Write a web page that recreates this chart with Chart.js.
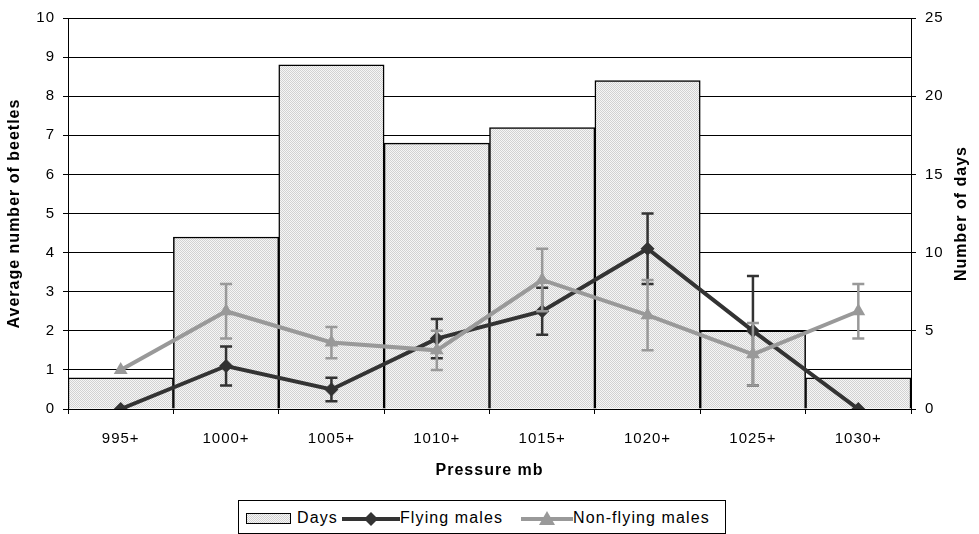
<!DOCTYPE html>
<html>
<head>
<meta charset="utf-8">
<script src="https://cdn.jsdelivr.net/npm/chart.js@4"></script>
<style>
  body { margin: 0; background: #fff; }
  #wrap { position: relative; width: 979px; height: 534px; }
  #legend {
    position: absolute; left: 238px; top: 500px; width: 488px; height: 34px;
    box-sizing: border-box; border: 1px solid #000; background: #fff;
    font-family: "Liberation Sans", Arial, sans-serif; font-size: 16px; letter-spacing: 1.1px; color: #000;
  }
  #legend > * { position: absolute; }
  #legend span { top: 9px; line-height: 1; }
  .patch {
    left: 7px; top: 12px; width: 45px; height: 11px; box-sizing: border-box; border: 1px solid #000;
    background: repeating-conic-gradient(#d2d2d2 0 25%, #f6f6f6 0 50%) 0 0 / 2px 2px;
  }
</style>
</head>
<body>
<div id="wrap">
  <canvas id="beetleChart" width="979" height="534"></canvas>
  <div id="legend">
    <div class="patch"></div>
    <span style="left:58px">Days</span>
    <svg style="left:103px;top:9px" width="58" height="18">
      <line x1="0" y1="9" x2="58" y2="9" stroke="#333" stroke-width="4"/>
      <polygon points="29,2 36,9 29,16 22,9" fill="#333"/>
    </svg>
    <span style="left:161px">Flying males</span>
    <svg style="left:282px;top:9px" width="52" height="18">
      <line x1="0" y1="9" x2="52" y2="9" stroke="#999" stroke-width="4"/>
      <polygon points="26,1 34,15 18,15" fill="#999"/>
    </svg>
    <span style="left:334px">Non-flying males</span>
  </div>
</div>
<script>
const pressureBins = ['995+', '1000+', '1005+', '1010+', '1015+', '1020+', '1025+', '1030+'];
const days = [2, 11, 22, 17, 18, 21, 5, 2];
const flyingMales = [0, 1.1, 0.5, 1.8, 2.5, 4.1, 2.0, 0];
const flyingErr = [0, 0.5, 0.3, 0.5, 0.6, 0.9, 1.4, 0];
const nonFlyingMales = [1.0, 2.5, 1.7, 1.5, 3.3, 2.4, 1.4, 2.5];
const nonFlyingErr = [0, 0.7, 0.4, 0.5, 0.8, 0.9, 0.8, 0.7];

Chart.defaults.font.family = '"Liberation Sans", Arial, sans-serif';
Chart.defaults.color = '#000';

// stippled fill for the day bars
const tile = document.createElement('canvas');
tile.width = 2; tile.height = 2;
const tctx = tile.getContext('2d');
tctx.fillStyle = '#f6f6f6'; tctx.fillRect(0, 0, 2, 2);
tctx.fillStyle = '#d2d2d2'; tctx.fillRect(0, 0, 1, 1); tctx.fillRect(1, 1, 1, 1);
const stipple = tctx.createPattern(tile, 'repeat');

// wider text spacing on the canvas labels
const spacing = {
    id: 'spacing',
    beforeUpdate(chart) { chart.ctx.letterSpacing = '1px'; },
    beforeDraw(chart) { chart.ctx.letterSpacing = '1px'; }
};

// right-hand axis title, reading bottom to top like the left one
const rightTitle = {
    id: 'rightTitle',
    afterDraw(chart) {
        const { ctx, chartArea } = chart;
        ctx.save();
        ctx.translate(962, (chartArea.top + chartArea.bottom) / 2);
        ctx.rotate(-Math.PI / 2);
        ctx.font = 'bold 16px "Liberation Sans", Arial, sans-serif';
        ctx.fillStyle = '#000';
        ctx.textAlign = 'center';
        ctx.textBaseline = 'middle';
        ctx.fillText('Number of days', 0, 0);
        ctx.restore();
    }
};

// vertical error bars with caps for the line series
const errorBars = {
    id: 'errorBars',
    afterDatasetDraw(chart, args) {
        const ds = chart.data.datasets[args.index];
        if (!ds.errors) return;
        const meta = args.meta;
        const yScale = chart.scales[meta.yAxisID];
        const ctx = chart.ctx;
        ctx.save();
        ctx.strokeStyle = ds.borderColor;
        ctx.lineWidth = 2.5;
        meta.data.forEach((pt, i) => {
            const e = ds.errors[i];
            if (!e) return;
            const top = yScale.getPixelForValue(ds.data[i] + e);
            const bot = yScale.getPixelForValue(ds.data[i] - e);
            ctx.beginPath();
            ctx.moveTo(pt.x, top); ctx.lineTo(pt.x, bot);
            ctx.moveTo(pt.x - 6, top); ctx.lineTo(pt.x + 6, top);
            ctx.moveTo(pt.x - 6, bot); ctx.lineTo(pt.x + 6, bot);
            ctx.stroke();
        });
        ctx.restore();
    }
};

const ctx = document.getElementById('beetleChart').getContext('2d');
const beetleChart = new Chart(ctx, {
    data: {
        labels: pressureBins,
        datasets: [{
            type: 'bar',
            label: 'Days',
            data: days,
            yAxisID: 'y2',
            backgroundColor: stipple,
            borderColor: '#000',
            borderWidth: 1.5,
            categoryPercentage: 1,
            barPercentage: 1,
            order: 3
        }, {
            type: 'line',
            label: 'Flying males',
            data: flyingMales,
            errors: flyingErr,
            yAxisID: 'y',
            borderColor: '#333',
            borderWidth: 4,
            pointStyle: 'rectRot',
            pointRadius: 7,
            pointBackgroundColor: '#333',
            pointBorderWidth: 0,
            tension: 0,
            order: 2
        }, {
            type: 'line',
            label: 'Non-flying males',
            data: nonFlyingMales,
            errors: nonFlyingErr,
            yAxisID: 'y',
            borderColor: '#999',
            borderWidth: 4,
            pointStyle: 'triangle',
            pointRadius: 8,
            pointBackgroundColor: '#999',
            pointBorderWidth: 0,
            tension: 0,
            order: 1
        }]
    },
    options: {
        responsive: false,
        animation: false,
        layout: { padding: { top: 15, bottom: 54, left: 0, right: 0 } },
        plugins: { legend: { display: false }, tooltip: { enabled: false } },
        scales: {
            x: {
                offset: true,
                grid: { offset: true, drawOnChartArea: false, color: '#000', tickLength: 5 },
                border: { color: '#000', width: 1 },
                ticks: { font: { size: 15 }, padding: 16 },
                title: { display: true, text: 'Pressure mb', font: { size: 16, weight: 'bold' }, padding: { top: 0, bottom: 0 } },
                afterFit: (s) => { s.height = 71; }
            },
            y: {
                position: 'left',
                min: 0, max: 10,
                grid: { color: '#000', tickLength: 5 },
                border: { color: '#000', width: 1 },
                ticks: { stepSize: 1, font: { size: 15 }, padding: 8 },
                title: { display: true, text: 'Average number of beetles', font: { size: 16, weight: 'bold' }, padding: { top: 5, bottom: 0 } },
                afterFit: (s) => { s.width = 68; }
            },
            y2: {
                position: 'right',
                min: 0, max: 25,
                grid: { drawOnChartArea: false, color: '#000', tickLength: 5 },
                border: { color: '#000', width: 1 },
                ticks: { stepSize: 5, font: { size: 15 }, padding: 9 },
                afterFit: (s) => { s.width = 68; }
            }
        }
    },
    plugins: [spacing, errorBars, rightTitle]
});
</script>
</body>
</html>
